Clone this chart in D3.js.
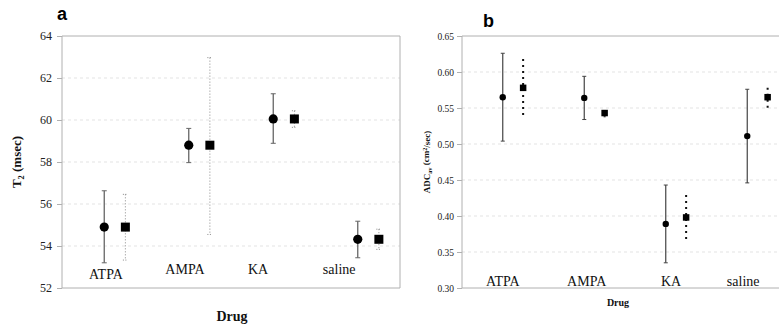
<!DOCTYPE html>
<html>
<head>
<meta charset="utf-8">
<script src="https://cdn.jsdelivr.net/npm/d3@7"></script>
<style>
  body { margin: 0; background: #fff; }
  svg { display: block; }
  .tick text { font-family: "Liberation Serif", "Times New Roman", serif; fill: #222; }
</style>
</head>
<body>
<div id="chart"></div>
<script>
//////////////////////////////////////////////////////////////
///////////////////////// Data ///////////////////////////////
//////////////////////////////////////////////////////////////

var drugs = ["ATPA", "AMPA", "KA", "saline"];

// panel a: T2 (msec)
var t2Ticks = [52, 54, 56, 58, 60, 62, 64];
var t2CircleMean = [54.9, 58.8, 60.05, 54.32];
var t2CircleLow  = [53.2, 57.97, 58.89, 53.44];
var t2CircleHigh = [56.63, 59.6, 61.25, 55.18];
var t2SquareMean = [54.9, 58.8, 60.05, 54.32];
var t2SquareLow  = [53.33, 54.55, 59.65, 53.84];
var t2SquareHigh = [56.46, 62.97, 60.44, 54.8];

// panel b: ADCav (cm2/sec)
var adcTicks = [0.30, 0.35, 0.40, 0.45, 0.50, 0.55, 0.60, 0.65];
var adcCircleMean = [0.565, 0.564, 0.389, 0.511];
var adcCircleLow  = [0.504, 0.534, 0.335, 0.446];
var adcCircleHigh = [0.626, 0.594, 0.443, 0.576];
var adcSquareMean = [0.578, 0.543, 0.398, 0.565];
var adcSquareLow  = [0.5375, 0.537, 0.366, 0.550];
var adcSquareHigh = [0.618, 0.547, 0.429, 0.578];

//////////////////////////////////////////////////////////////
//////////////////////// Settings ////////////////////////////
//////////////////////////////////////////////////////////////

var width = 779;
var height = 331;
var serif = '"Liberation Serif", "Times New Roman", serif';

var svg = d3.select("#chart").append("svg")
    .attr("width", width)
    .attr("height", height);

var panels = [
  {
    letter: "a", letterX: 57, letterY: 20,
    left: 62, right: 400, top: 36, bottom: 288, rightBorder: true,
    ticks: t2Ticks, fmt: d3.format("d"), tickFont: 12, tickPad: 5,
    circ: [t2CircleMean, t2CircleLow, t2CircleHigh],
    sq: [t2SquareMean, t2SquareLow, t2SquareHigh],
    r: 4.6, sqSize: 9, capW: 5,
    circStroke: "#666", circWidth: 1.3,
    sqStroke: "#888", sqWidth: 1, sqDash: "1,2",
    // label offsets (fraction of band) and baseline (data units)
    labelDx: [0.02, -0.045, -0.18, -0.22],
    labelY: [52.43, 52.67, 52.67, 52.67],
    labelFont: 14,
    yTitle: ["T", "2", " (msec)"], yTitleX: 21, yTitleFont: 13,
    xTitleY: 321, xTitleFont: 14
  },
  {
    letter: "b", letterX: 483, letterY: 27,
    left: 462, right: 788, top: 36, bottom: 288, rightBorder: false,
    ticks: adcTicks, fmt: d3.format(".2f"), tickFont: 9.5, tickPad: 3,
    circ: [adcCircleMean, adcCircleLow, adcCircleHigh],
    sq: [adcSquareMean, adcSquareLow, adcSquareHigh],
    r: 3.2, sqSize: 6.5, capW: 4,
    circStroke: "#444", circWidth: 1.2,
    sqStroke: "#111", sqWidth: 2, sqDash: "2,4",
    labelDx: [0.0, 0.03, 0.065, -0.05],
    labelY: [0.3028, 0.3028, 0.3028, 0.3028],
    labelFont: 14,
    yTitle: ["ADC", "av", " (cm", "2", "/sec)"], yTitleX: 430, yTitleFont: 9,
    xTitleY: 306, xTitleFont: 10
  }
];

panels.forEach(drawPanel);

function drawPanel(p) {
  var g = svg.append("g");

  var x = d3.scaleBand().domain(drugs).range([p.left, p.right]);
  var y = d3.scaleLinear()
      .domain([p.ticks[0], p.ticks[p.ticks.length - 1]])
      .range([p.bottom, p.top]);
  var bw = x.bandwidth();

  // gridlines
  g.selectAll(".grid")
    .data(p.ticks.slice(1, -1)).enter()
    .append("line")
      .attr("x1", p.left).attr("x2", p.right)
      .attr("y1", function(d) { return y(d); })
      .attr("y2", function(d) { return y(d); })
      .attr("stroke", "#dcdcdc")
      .attr("stroke-dasharray", "3,3")
      .attr("stroke-width", 0.8);

  // frame
  var frame = g.append("path")
      .attr("fill", "none")
      .attr("stroke", "#b0b0b0")
      .attr("stroke-width", 1);
  if (p.rightBorder) {
    frame.attr("d", "M" + p.left + "," + p.top + "H" + p.right + "V" + p.bottom + "H" + p.left + "Z");
  } else {
    frame.attr("d", "M" + p.right + "," + p.top + "H" + p.left + "V" + p.bottom + "H" + p.right);
  }

  // y axis
  var yAxis = d3.axisLeft(y)
      .tickValues(p.ticks)
      .tickFormat(p.fmt)
      .tickSize(5)
      .tickPadding(p.tickPad);
  var ga = g.append("g")
      .attr("transform", "translate(" + p.left + ",0)")
      .call(yAxis);
  ga.select(".domain").remove();
  ga.selectAll(".tick line").attr("stroke", "#b0b0b0");
  ga.selectAll(".tick text")
      .style("font-size", p.tickFont + "px")
      .style("font-family", serif)
      .attr("fill", "#333");

  // error bars: circles (solid)
  var idx = d3.range(drugs.length);
  var cx = function(i) { return x(drugs[i]) + bw / 2; };
  var sx = function(i) { return x(drugs[i]) + bw * 0.75; };

  g.selectAll(".circErr")
    .data(idx).enter()
    .append("line")
      .attr("x1", cx).attr("x2", cx)
      .attr("y1", function(i) { return y(p.circ[1][i]); })
      .attr("y2", function(i) { return y(p.circ[2][i]); })
      .attr("stroke", p.circStroke)
      .attr("stroke-width", p.circWidth);

  [1, 2].forEach(function(k) {
    g.selectAll(".circCap" + k)
      .data(idx).enter()
      .append("line")
        .attr("x1", function(i) { return cx(i) - p.capW / 2; })
        .attr("x2", function(i) { return cx(i) + p.capW / 2; })
        .attr("y1", function(i) { return y(p.circ[k][i]); })
        .attr("y2", function(i) { return y(p.circ[k][i]); })
        .attr("stroke", p.circStroke)
        .attr("stroke-width", 1);
  });

  // error bars: squares (dotted)
  g.selectAll(".sqErr")
    .data(idx).enter()
    .append("line")
      .attr("x1", sx).attr("x2", sx)
      .attr("y1", function(i) { return y(p.sq[2][i]); })
      .attr("y2", function(i) { return y(p.sq[1][i]); })
      .attr("stroke", p.sqStroke)
      .attr("stroke-width", p.sqWidth)
      .attr("stroke-dasharray", p.sqDash);

  if (p.rightBorder) {
    [1, 2].forEach(function(k) {
      g.selectAll(".sqCap" + k)
        .data(idx).enter()
        .append("line")
          .attr("x1", function(i) { return sx(i) - p.capW / 2; })
          .attr("x2", function(i) { return sx(i) + p.capW / 2; })
          .attr("y1", function(i) { return y(p.sq[k][i]); })
          .attr("y2", function(i) { return y(p.sq[k][i]); })
          .attr("stroke", p.sqStroke)
          .attr("stroke-width", 1)
          .attr("stroke-dasharray", "1,1.5");
    });
  }

  // markers
  g.selectAll(".dot")
    .data(idx).enter()
    .append("circle")
      .attr("cx", cx)
      .attr("cy", function(i) { return y(p.circ[0][i]); })
      .attr("r", p.r)
      .attr("fill", "#000");

  g.selectAll(".sq")
    .data(idx).enter()
    .append("rect")
      .attr("x", function(i) { return sx(i) - p.sqSize / 2; })
      .attr("y", function(i) { return y(p.sq[0][i]) - p.sqSize / 2; })
      .attr("width", p.sqSize)
      .attr("height", p.sqSize)
      .attr("fill", "#000");

  // category labels
  g.selectAll(".catLabel")
    .data(idx).enter()
    .append("text")
      .attr("x", function(i) { return cx(i) + p.labelDx[i] * bw; })
      .attr("y", function(i) { return y(p.labelY[i]); })
      .attr("text-anchor", "middle")
      .style("font-family", serif)
      .style("font-size", p.labelFont + "px")
      .attr("fill", "#111")
      .text(function(i) { return drugs[i]; });

  // x title
  g.append("text")
      .attr("x", (p.left + p.right) / 2 + (p.rightBorder ? 1 : -7))
      .attr("y", p.xTitleY)
      .attr("text-anchor", "middle")
      .style("font-family", serif)
      .style("font-weight", "bold")
      .style("font-size", p.xTitleFont + "px")
      .attr("fill", "#111")
      .text("Drug");

  // y title (with sub/superscripts)
  var yt = g.append("text")
      .attr("transform", "translate(" + p.yTitleX + "," + ((p.top + p.bottom) / 2) + ") rotate(-90)")
      .attr("text-anchor", "middle")
      .style("font-family", serif)
      .style("font-weight", "bold")
      .style("font-size", p.yTitleFont + "px")
      .attr("fill", "#111");
  if (p.letter === "a") {
    yt.append("tspan").text("T");
    yt.append("tspan").attr("dy", "0.3em").style("font-size", "0.65em").text("2");
    yt.append("tspan").attr("dy", "-0.2em").text(" (msec)");
  } else {
    yt.append("tspan").text("ADC");
    yt.append("tspan").attr("dy", "0.3em").style("font-size", "0.7em").text("av");
    yt.append("tspan").attr("dy", "-0.3em").text(" (cm");
    yt.append("tspan").attr("dy", "-0.4em").style("font-size", "0.7em").text("2");
    yt.append("tspan").attr("dy", "0.4em").text("/sec)");
  }

  // panel letter
  g.append("text")
      .attr("x", p.letterX)
      .attr("y", p.letterY)
      .style("font-family", '"Liberation Sans", Arial, sans-serif')
      .style("font-weight", "bold")
      .style("font-size", "18px")
      .attr("fill", "#000")
      .text(p.letter);
}
</script>
</body>
</html>
